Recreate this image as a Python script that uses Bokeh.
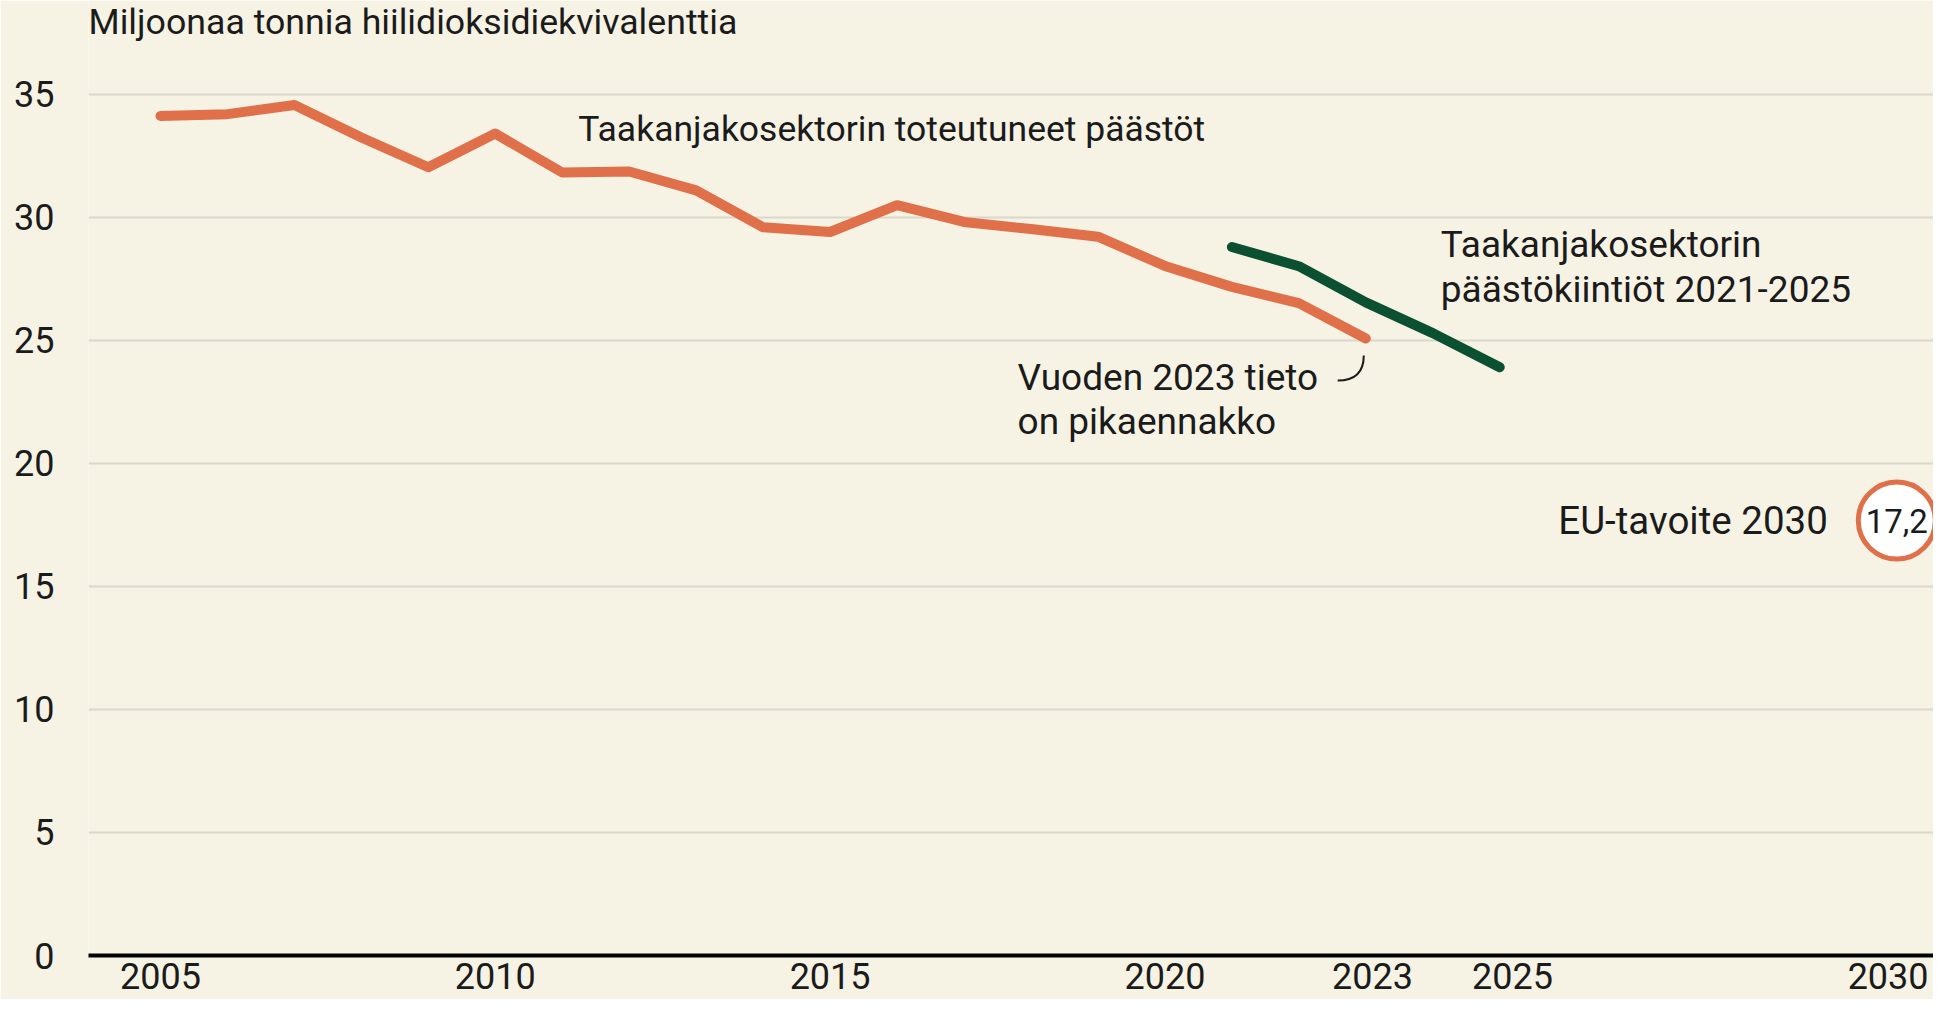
from bokeh.plotting import figure
from bokeh.models import FixedTicker, Range1d
from bokeh.core.properties import value
from bokeh.embed import file_html
from bokeh.resources import INLINE

# ---------------- data ----------------
years = list(range(2005, 2024))
emissions = [34.13, 34.20, 34.57, 33.25, 32.04, 33.41, 31.83, 31.87, 31.10, 29.60,
             29.41, 30.50, 29.82, 29.53, 29.22, 28.03, 27.18, 26.52, 25.08]
quota_years = [2021, 2022, 2023, 2024, 2025]
quotas = [28.80, 28.02, 26.55, 25.30, 23.91]
target_year = 2030
target_value = 17.2
y_ticks = [0, 5, 10, 15, 20, 25, 30, 35]
x_tick_years = [2005, 2010, 2015, 2020, 2023, 2025, 2030]

title_text = "Miljoonaa tonnia hiilidioksidiekvivalenttia"
label_actual = "Taakanjakosektorin toteutuneet päästöt"
label_quota = ["Taakanjakosektorin", "päästökiintiöt 2021-2025"]
label_prelim = ["Vuoden 2023 tieto", "on pikaennakko"]
label_target = "EU-tavoite 2030"

# ---------------- style ----------------
BG = "#F6F3E5"
ORANGE = "#E0704A"
GREEN = "#0B5131"
INK = "#1b1b1b"
GRID = "#DAD7CB"
FONT = "Roboto"

# layout nudges (screen-matching offsets, in data units)
TICK_NUDGE = {2023: 0.1, 2025: 0.19, 2030: 0.8}
TARGET_X_SHIFT = 0.93
TARGET_Y_LIFT = 0.48

X0, X1 = 2003.925, 2031.478
Y1 = 38.82

p = figure(width=1933, height=999,
           x_range=Range1d(X0, X1), y_range=Range1d(0, Y1),
           output_backend="svg", toolbar_location=None,
           min_border_left=88, min_border_right=0, min_border_top=0, min_border_bottom=44)
p.background_fill_color = BG
p.border_fill_color = BG
p.outline_line_color = None

# axes
tick_pos = [y + TICK_NUDGE.get(y, 0) for y in x_tick_years]
p.xaxis.ticker = FixedTicker(ticks=tick_pos)
p.xaxis.major_label_overrides = {pos: str(y) for pos, y in zip(tick_pos, x_tick_years)}
p.xaxis.axis_line_color = "black"
p.xaxis.axis_line_width = 4
p.xaxis.major_tick_line_color = None
p.xaxis.minor_tick_line_color = None
p.xaxis.major_label_standoff = 1
p.xaxis.major_label_text_font = FONT
p.xaxis.major_label_text_font_size = "36px"
p.xaxis.major_label_text_color = INK

p.yaxis.ticker = FixedTicker(ticks=y_ticks)
p.yaxis.axis_line_color = None
p.yaxis.major_tick_line_color = None
p.yaxis.minor_tick_line_color = None
p.yaxis.major_label_standoff = 28
p.yaxis.major_label_text_font = FONT
p.yaxis.major_label_text_font_size = "36px"
p.yaxis.major_label_text_color = INK

p.xgrid.grid_line_color = None
p.ygrid.ticker = FixedTicker(ticks=y_ticks[1:])
p.ygrid.grid_line_color = GRID
p.ygrid.grid_line_width = 2

# series
p.line(years, emissions, line_color=ORANGE, line_width=10, line_cap="round", line_join="round")
p.line(quota_years, quotas, line_color=GREEN, line_width=10, line_cap="round", line_join="round")

# title (inside the top of the frame, aligned with frame left)
p.text(x=[X0], y=[37.93], text=[title_text], text_align="left", text_baseline="middle",
       text_font=value(FONT), text_font_size="35.7px", text_color=INK)

# annotations
p.text(x=[2011.24], y=[33.6], text=[label_actual], text_align="left", text_baseline="middle",
       text_font=value(FONT), text_font_size="35.5px", text_color=INK)
p.text(x=[2024.12, 2024.12], y=[28.92, 28.92], y_offset=[0, 45], text=label_quota,
       text_align="left", text_baseline="middle",
       text_font=value(FONT), text_font_size="37px", text_color=INK)
p.text(x=[2017.8, 2017.8], y=[23.5, 23.5], y_offset=[0, 44], text=label_prelim,
       text_align="left", text_baseline="middle",
       text_font=value(FONT), text_font_size="37px", text_color=INK)
p.quadratic(x0=[2022.58], y0=[23.37], x1=[2022.97], y1=[24.39], cx=[2022.97], cy=[23.37],
            line_color=INK, line_width=2)

# target marker
tx = target_year + TARGET_X_SHIFT
ty = target_value + TARGET_Y_LIFT
p.scatter(x=[tx], y=[ty], marker="circle", size=77, fill_color="white",
          line_color=ORANGE, line_width=5)
p.text(x=[tx], y=[ty], text=[f"{target_value}".replace(".", ",")], text_align="center",
       text_baseline="middle", text_font=value(FONT), text_font_size="33px", text_color=INK)
p.text(x=[tx], y=[ty], x_offset=[-69], text=[label_target], text_align="right",
       text_baseline="middle", text_font=value(FONT), text_font_size="38.5px", text_color=INK)

open("out.html", "w").write(file_html(p, INLINE))
